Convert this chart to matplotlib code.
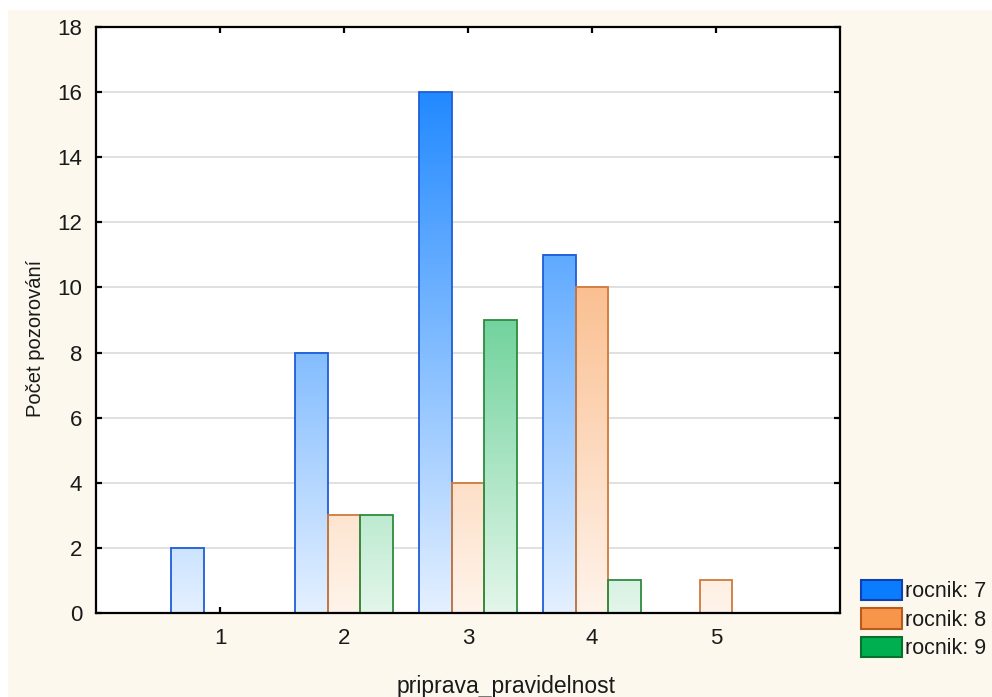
import numpy as np
import matplotlib.pyplot as plt
from matplotlib.colors import LinearSegmentedColormap
from matplotlib.patches import Patch, Rectangle

plt.rcParams['font.family'] = ['Liberation Sans', 'DejaVu Sans']

# ---------- data ----------
kategorie = [1, 2, 3, 4, 5]
rocnik_7 = [2, 8, 16, 11, 0]
rocnik_8 = [0, 3, 4, 10, 1]
rocnik_9 = [0, 3, 9, 1, 0]
popisky = ["rocnik: 7", "rocnik: 8", "rocnik: 9"]
serie = [rocnik_7, rocnik_8, rocnik_9]

# (plna barva nahore, svetla barva dole, okraj sloupce, okraj v legende)
barvy = [("#0a7dff", "#e4f0ff", "#1f5ed8", "#1040b0"),
         ("#f7964a", "#fff4eb", "#cf7a3a", "#b85c1c"),
         ("#00b050", "#e3f6ea", "#2e8b3e", "#0a7030")]

ymax = 18
sirka = 0.265
text_barva = "#1a1a1a"

fig = plt.figure(figsize=(9.92, 6.97), dpi=100, facecolor="white")
# kremove pozadi (nahore a vlevo zustava uzky bily pruh)
fig.add_artist(Rectangle((8 / 992, 0), 1, 1 - 10 / 697, transform=fig.transFigure,
                         facecolor="#fdf8ee", edgecolor="none", zorder=-10))

ax = fig.add_axes([96 / 992, (697 - 613) / 697, 744 / 992, 586 / 697])
ax.set_facecolor("white")

# ---------- sloupce s prechodem barvy ----------
for i, (hodnoty, (plna, svetla, okraj, _)) in enumerate(zip(serie, barvy)):
    cmap = LinearSegmentedColormap.from_list(f"grad{i}", [svetla, plna])
    off = (i - 1) * sirka
    xs, hs = [], []
    for x, h in zip(kategorie, hodnoty):
        if h <= 0:
            continue
        grad = np.linspace(0, h, 256).reshape(-1, 1)
        ax.imshow(grad, cmap=cmap, vmin=0, vmax=ymax, origin="lower",
                  extent=[x + off - sirka / 2, x + off + sirka / 2, 0, h],
                  aspect="auto", interpolation="bilinear", zorder=2)
        xs.append(x + off)
        hs.append(h)
    ax.bar(xs, hs, sirka, fill=False, edgecolor=okraj, linewidth=1.3, zorder=3)

ax.set_xlim(0, 6)
ax.set_ylim(0, ymax)
ax.set_xticks(kategorie)
ax.set_yticks(range(0, ymax + 1, 2))
ax.yaxis.grid(True, color="#dddddd", linewidth=1.3)
ax.set_axisbelow(True)

for sp in ax.spines.values():
    sp.set_linewidth(1.6)
    sp.set_color("black")
    sp.set_zorder(5)

ax.tick_params(axis="both", direction="in", top=True, right=True, length=4,
               width=1.6, color="black", labelsize=16, labelcolor=text_barva)
ax.tick_params(axis="x", pad=11)
ax.tick_params(axis="y", pad=10)

ax.set_xlabel("priprava_pravidelnost", fontsize=16.5, color=text_barva)
ax.xaxis.set_label_coords(0.551, -0.106)
ax.set_ylabel("Počet pozorování", fontsize=14.5, color=text_barva)
ax.yaxis.set_label_coords(-0.069, 0.469)

# ---------- legenda ----------
handles = [Patch(facecolor=b[0], edgecolor=b[3], linewidth=1.5) for b in barvy]
fig.legend(handles, popisky, loc="upper left",
           bbox_to_anchor=(861 / 992, 1 - 580 / 697), frameon=False,
           fontsize=15.5, handlelength=1.9, handleheight=1.07, handletextpad=0.15,
           labelspacing=0.28, borderpad=0, borderaxespad=0, labelcolor=text_barva)

fig.savefig("out.png", dpi=100, facecolor=fig.get_facecolor())
